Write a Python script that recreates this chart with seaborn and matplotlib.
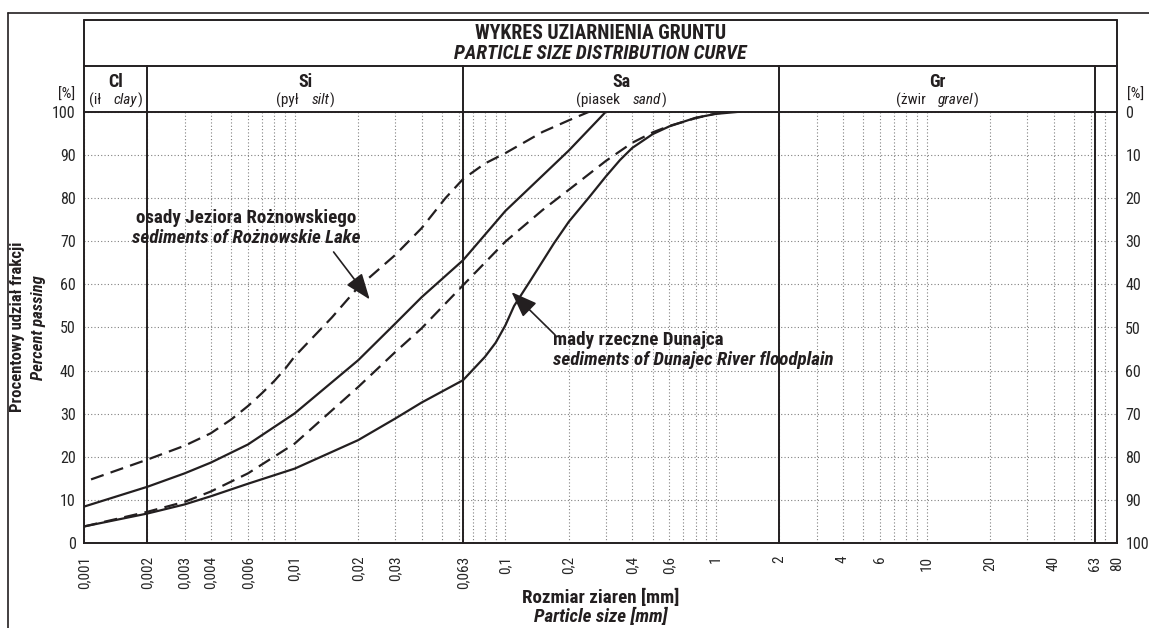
import pandas as pd
import matplotlib
matplotlib.use('Agg')
import matplotlib.pyplot as plt
import seaborn as sns
from matplotlib import font_manager
from matplotlib.lines import Line2D
from matplotlib.ticker import FixedLocator, LogLocator, NullFormatter
from matplotlib.offsetbox import TextArea, HPacker, AnnotationBbox

# particle size [mm] / percent passing
lake_upper_mm = [0.00108, 0.002, 0.003, 0.004, 0.005, 0.006, 0.007, 0.008, 0.009, 0.01,
                 0.015, 0.02, 0.03, 0.04, 0.052, 0.063, 0.08, 0.1, 0.15, 0.2, 0.25]
lake_upper_pct = [14.8, 19.4, 22.6, 25.5, 28.7, 31.8, 34.8, 37.6, 40.4, 43.3,
                  52.3, 59.3, 66.8, 73.0, 80.0, 84.4, 88.0, 90.4, 95.3, 98.0, 100]

lake_lower_mm = [0.001, 0.002, 0.003, 0.004, 0.006, 0.01, 0.02, 0.03, 0.04, 0.063,
                 0.1, 0.15, 0.2, 0.3, 0.4, 0.5, 0.6, 0.8, 1.0, 1.2]
lake_lower_pct = [3.9, 7.3, 9.6, 12.0, 16.2, 23.1, 36.2, 44.3, 49.8, 59.8,
                  69.9, 77.2, 81.9, 88.6, 92.8, 95.2, 96.7, 98.5, 99.6, 100]

river_upper_mm = [0.001, 0.002, 0.003, 0.004, 0.006, 0.01, 0.02, 0.03, 0.04, 0.063,
                  0.1, 0.2, 0.3]
river_upper_pct = [8.5, 13.1, 16.2, 18.7, 22.9, 30.1, 42.4, 50.9, 57.0, 65.6,
                   77.0, 91.0, 100]

river_lower_mm = [0.001, 0.002, 0.003, 0.004, 0.006, 0.01, 0.02, 0.03, 0.04, 0.063,
                  0.08, 0.09, 0.1, 0.11, 0.13, 0.17, 0.2, 0.25, 0.3, 0.35, 0.4, 0.5,
                  0.6, 0.8, 1.0, 1.3]
river_lower_pct = [3.9, 6.9, 9.0, 10.9, 13.8, 17.3, 23.9, 28.9, 32.6, 37.8,
                   43.2, 46.5, 50.5, 55.0, 60.5, 69.5, 74.5, 80.2, 85.0, 88.8, 91.6, 94.8,
                   96.6, 98.6, 99.5, 100]

x_ticks = [0.001, 0.002, 0.003, 0.004, 0.006, 0.01, 0.02, 0.03, 0.063, 0.1, 0.2, 0.4, 0.6,
           1, 2, 4, 6, 10, 20, 40, 63, 80]
x_tick_labels = ['0,001', '0,002', '0,003', '0,004', '0,006', '0,01', '0,02', '0,03', '0,063',
                 '0,1', '0,2', '0,4', '0,6', '1', '2', '4', '6', '10', '20', '40', '63', '80']
y_ticks = [0, 10, 20, 30, 40, 50, 60, 70, 80, 90, 100]

# fraction boundaries and names
bounds = [0.001, 0.002, 0.063, 2, 63]
frac_codes = ['Cl', 'Si', 'Sa', 'Gr']
frac_pl = ['ił', 'pył', 'piasek', 'żwir']
frac_en = ['clay', 'silt', 'sand', 'gravel']

INK = '#231f20'
BIG = 13.7

sns.set_theme(style='white')
names = {f.name for f in font_manager.fontManager.ttflist}
cond = next((n for n in ['Roboto Condensed', 'Liberation Sans Narrow', 'DejaVu Sans Condensed']
             if n in names), 'DejaVu Sans')
plt.rcParams['font.family'] = [cond, 'DejaVu Sans']
plt.rcParams['font.stretch'] = 'condensed'
plt.rcParams['text.color'] = INK

frames = []
for name, kind, xs, ys in [('lake_upper', 'dashed', lake_upper_mm, lake_upper_pct),
                           ('lake_lower', 'dashed', lake_lower_mm, lake_lower_pct),
                           ('river_upper', 'solid', river_upper_mm, river_upper_pct),
                           ('river_lower', 'solid', river_lower_mm, river_lower_pct)]:
    frames.append(pd.DataFrame({'size': xs, 'passing': ys, 'curve': name, 'kind': kind}))
df = pd.concat(frames, ignore_index=True)

fig = plt.figure(figsize=(11.49, 6.28), dpi=100)
ax = fig.add_axes([84 / 1149, 1 - 543.3 / 628, 1033 / 1149, 431.6 / 628])

sns.lineplot(data=df, x='size', y='passing', units='curve', estimator=None, style='kind',
             dashes={'solid': '', 'dashed': (6, 3.3)}, color=INK, lw=1.6, legend=False, ax=ax)

ax.set_xscale('log')
ax.set_xlim(0.001, 80)
ax.set_ylim(0, 100)
ax.xaxis.set_major_locator(FixedLocator(x_ticks))
ax.xaxis.set_minor_locator(LogLocator(base=10, subs=range(1, 10), numticks=20))
ax.xaxis.set_minor_formatter(NullFormatter())
ax.set_xticklabels(x_tick_labels, rotation=90, fontsize=11)
ax.set_yticks(y_ticks)
ax.set_yticklabels([str(v) for v in y_ticks], fontsize=11.5)
ax.tick_params(which='both', length=0)
ax.tick_params(axis='x', pad=9)
ax.tick_params(axis='y', pad=6)
ax.grid(which='both', axis='x', ls=(0, (1, 2)), color='#808080', lw=0.8)
ax.grid(which='major', axis='y', ls=(0, (1, 2)), color='#808080', lw=0.8)
ax.set_xlabel('')
ax.set_ylabel('')
for s in ax.spines.values():
    s.set_color(INK)
    s.set_linewidth(1.4)

ax2 = ax.twinx()
ax2.set_ylim(100, 0)
ax2.set_yticks(y_ticks)
ax2.set_yticklabels([str(v) for v in y_ticks], fontsize=11.5)
ax2.tick_params(length=0, pad=6)
ax2.grid(False)
for s in ax2.spines.values():
    s.set_visible(False)

# header box with fraction cells
hdr_top, hdr_mid = 1.2125, 1.1059
kw = dict(transform=ax.transAxes, clip_on=False, color=INK, lw=1.4)
ax.plot([0, 1], [hdr_top, hdr_top], **kw)
ax.plot([0, 1], [hdr_mid, hdr_mid], **kw)
ax.plot([0, 0], [1, hdr_top], **kw)
ax.plot([1, 1], [1, hdr_top], **kw)
for b in bounds[1:]:
    ax.axvline(b, ymin=0, ymax=hdr_mid, clip_on=False, color=INK, lw=1.4)

ax.text(0.5, 1.1823, 'WYKRES UZIARNIENIA GRUNTU', transform=ax.transAxes,
        ha='center', va='center', fontsize=14.2, weight='bold')
ax.text(0.5, 1.1360, 'PARTICLE SIZE DISTRIBUTION CURVE', transform=ax.transAxes,
        ha='center', va='center', fontsize=14.2, weight='bold', style='italic')

xt = ax.get_xaxis_transform()
for i, code in enumerate(frac_codes):
    xc = (bounds[i] * bounds[i + 1]) ** 0.5
    ax.text(xc, 1.069, code, transform=xt, ha='center', va='center', fontsize=13, weight='bold')
    inner = HPacker(children=[TextArea(frac_en[i], textprops=dict(size=11, style='italic', color=INK)),
                              TextArea(')', textprops=dict(size=11, color=INK))], sep=0, pad=0,
                    align='baseline')
    box = HPacker(children=[TextArea('(' + frac_pl[i], textprops=dict(size=11, color=INK)), inner],
                  sep=9, pad=0, align='baseline')
    ax.add_artist(AnnotationBbox(box, (xc, 1.027), xycoords=xt, frameon=False,
                                 box_alignment=(0.5, 0.5), annotation_clip=False))

ax.text(-0.0087, 1.0387, '[%]', transform=ax.transAxes, ha='right', va='center', fontsize=11)
ax.text(1.0097, 1.0387, '[%]', transform=ax.transAxes, ha='left', va='center', fontsize=11)

# axis titles
fig.text(18 / 1149, 0.479, 'Procentowy udział frakcji', rotation=90, ha='center', va='center',
         fontsize=12, weight='bold')
fig.text(38 / 1149, 0.479, 'Percent passing', rotation=90, ha='center', va='center',
         fontsize=12, weight='bold', style='italic')
fig.text(600.5 / 1149, 1 - 598 / 628, 'Rozmiar ziaren [mm]', ha='center', va='center',
         fontsize=BIG, weight='bold')
fig.text(600.5 / 1149, 1 - 617 / 628, 'Particle size [mm]', ha='center', va='center',
         fontsize=BIG, weight='bold', style='italic')

# outer frame
fig.add_artist(Line2D([8 / 1149, 1], [1 - 13 / 628, 1 - 13 / 628], transform=fig.transFigure,
                      color=INK, lw=1.2))
fig.add_artist(Line2D([8 / 1149, 8 / 1149], [0, 1 - 13 / 628], transform=fig.transFigure,
                      color=INK, lw=1.2))

# annotations
arrow = dict(arrowstyle='-|>,head_length=0.8,head_width=0.3', color=INK, lw=1.2,
             mutation_scale=20, shrinkA=0, shrinkB=0)
ax.text(0.0059, 75.4, 'osady Jeziora Rożnowskiego', ha='center', va='center',
        fontsize=BIG, weight='bold')
ax.text(0.0059, 70.7, 'sediments of Rożnowskie Lake', ha='center', va='center',
        fontsize=BIG, weight='bold', style='italic')
ax.annotate('', xy=(0.0227, 56.5), xytext=(0.0153, 67.5), arrowprops=arrow)

ax.text(0.168, 47.1, 'mady rzeczne Dunajca', ha='left', va='center', fontsize=BIG, weight='bold')
ax.text(0.168, 42.5, 'sediments of Dunajec River floodplain', ha='left', va='center',
        fontsize=BIG, weight='bold', style='italic')
ax.annotate('', xy=(0.107, 58.2), xytext=(0.172, 48.3), arrowprops=arrow)

fig.savefig('out.png', dpi=100)
